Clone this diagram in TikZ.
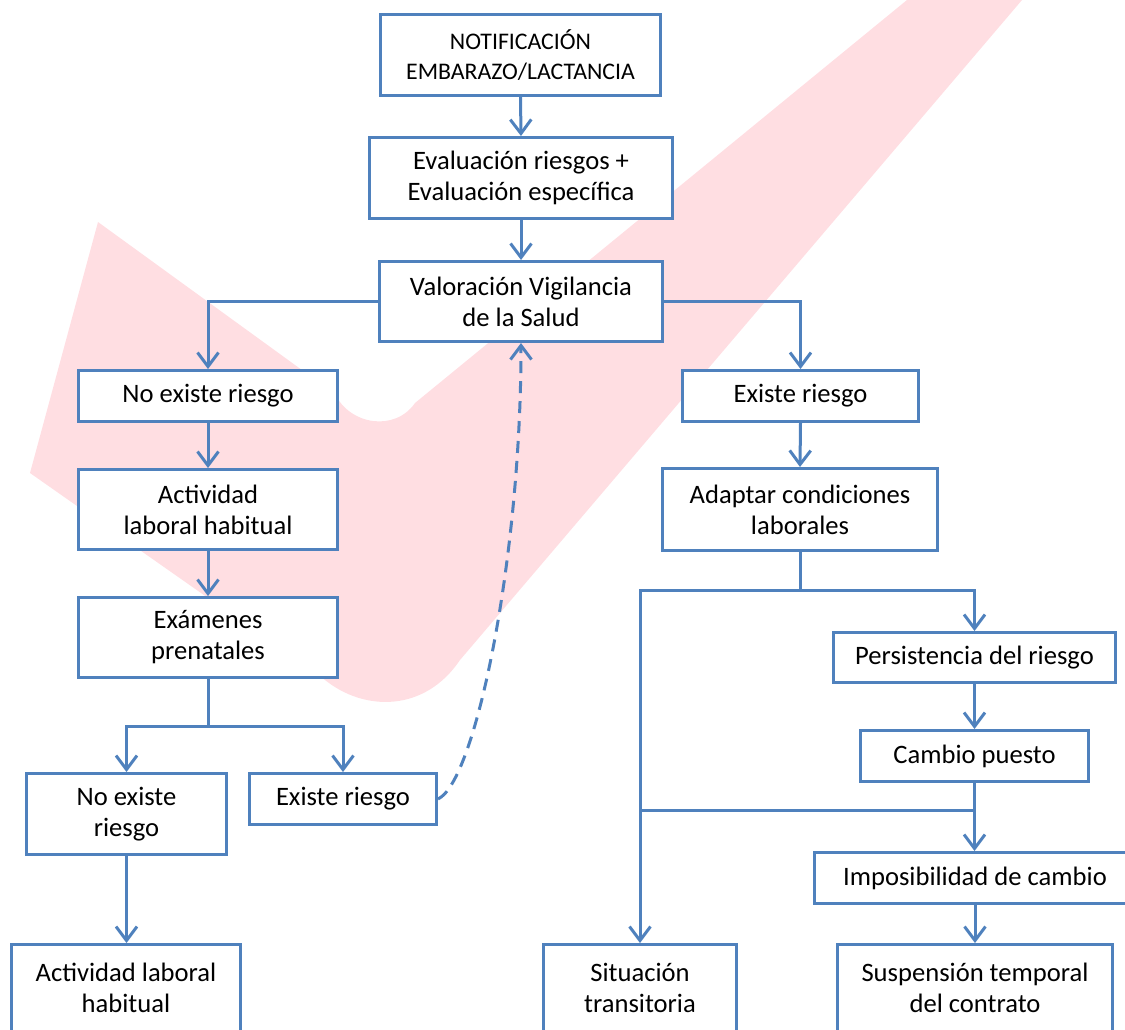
\documentclass[tikz,border=0pt]{standalone}
\usepackage{fontspec}
\setmainfont{Carlito}
\usetikzlibrary{arrows.meta}
\definecolor{bl}{RGB}{79,129,189}
\definecolor{wm}{RGB}{255,222,226}
\begin{document}
\begin{tikzpicture}[x=1pt,y=-1pt,
  box/.style={draw=bl, line width=3pt, fill=white, align=center, inner sep=0pt,
    font=\fontsize{26.6}{31}\selectfont, text=black},
  arr/.style={draw=bl, line width=3pt, -{Straight Barb[length=14pt,width=21pt]}},
  ln/.style={draw=bl, line width=3pt}]
\useasboundingbox (0,0) rectangle (1125,1029);
\clip (0,0) rectangle (1125,1029);
% watermark
\fill[wm] (98,222) -- (30,473) -- (325,680)
  .. controls (365,712) and (425,712) .. (460,660)
  -- (1022,0) -- (907,0) -- (415,403)
  .. controls (395,432) and (350,425) .. (335,394) -- cycle;
% nodes
\node[box, minimum width=280pt, minimum height=81pt, font=\fontsize{23.8}{29.5}\selectfont] (n1) at (520.5,55) {NOTIFICACIÓN\\EMBARAZO/LACTANCIA};
\node[box, minimum width=303pt, minimum height=81pt] (n2) at (521,178) {Evaluación riesgos +\\Evaluación específica};
\node[box, minimum width=283pt, minimum height=80pt] (n3) at (521,301.5) {Valoración Vigilancia\\de la Salud};
\node[box, minimum width=259pt, minimum height=51pt] (L1) at (208,396) {No existe riesgo};
\node[box, minimum width=259pt, minimum height=80pt] (L2) at (208,509.5) {Actividad\\laboral habitual};
\node[box, minimum width=259pt, minimum height=80pt] (L3) at (208,637.5) {Exámenes\\prenatales};
\node[box, minimum width=200pt, minimum height=81pt] (L4) at (126.5,814) {No existe\\riesgo};
\node[box, minimum width=187pt, minimum height=51pt] (L5) at (343,799) {Existe riesgo};
\node[box, minimum width=229pt, minimum height=87pt] (L6) at (126,988) {Actividad laboral\\habitual};
\node[box, minimum width=236pt, minimum height=51pt] (R1) at (800.5,396) {Existe riesgo};
\node[box, minimum width=275pt, minimum height=82pt] (R2) at (800,509.5) {Adaptar condiciones\\laborales};
\node[box, minimum width=282pt, minimum height=50pt] (R3) at (974.5,657.5) {Persistencia del riesgo};
\node[box, minimum width=228pt, minimum height=51pt] (R4) at (974.5,756) {Cambio puesto};
\node[box, minimum width=321pt, minimum height=51pt] (R5) at (975,878) {Imposibilidad de cambio};
\node[box, minimum width=193pt, minimum height=87pt] (R6) at (640,988) {Situación\\transitoria};
\node[box, minimum width=275pt, minimum height=87pt] (R7) at (975,988) {Suspensión temporal\\del contrato};
\coordinate (s1) at (208,726);
\coordinate (s2) at (800,590);
\coordinate (s3) at (640,810);
% connectors
\draw[arr] (n1.south) -- (n2.north);
\draw[arr] (n2.south) -- (n3.north);
\draw[arr] (n3.west) -| (L1.north);
\draw[arr] (n3.east) -| (R1.north);
\draw[arr] (L1.south) -- (L2.north);
\draw[arr] (L2.south) -- (L3.north);
\draw[ln] (L3.south) -- (s1);
\draw[arr] (s1) -| (L4.north);
\draw[arr] (s1) -| (L5.north);
\draw[arr] (L4.south) -- (L4.south |- L6.north);
\draw[arr, dash pattern=on 12pt off 8pt] (L5.east) .. controls (475,782) and (521,560) .. (n3.south);
\draw[arr] (R1.south) -- (R2.north);
\draw[ln] (R2.south) -- (s2);
\draw[arr] (s2) -| (R3.north);
\draw[arr] (s2) -| (R6.north);
\draw[arr] (R3.south) -- (R3.south |- R4.north);
\draw[arr] (R4.south) -- (R4.south |- R5.north);
\draw[ln] (s3) -- (R4.south |- s3);
\draw[arr] (R5.south) -- (R5.south |- R7.north);
\end{tikzpicture}
\end{document}
